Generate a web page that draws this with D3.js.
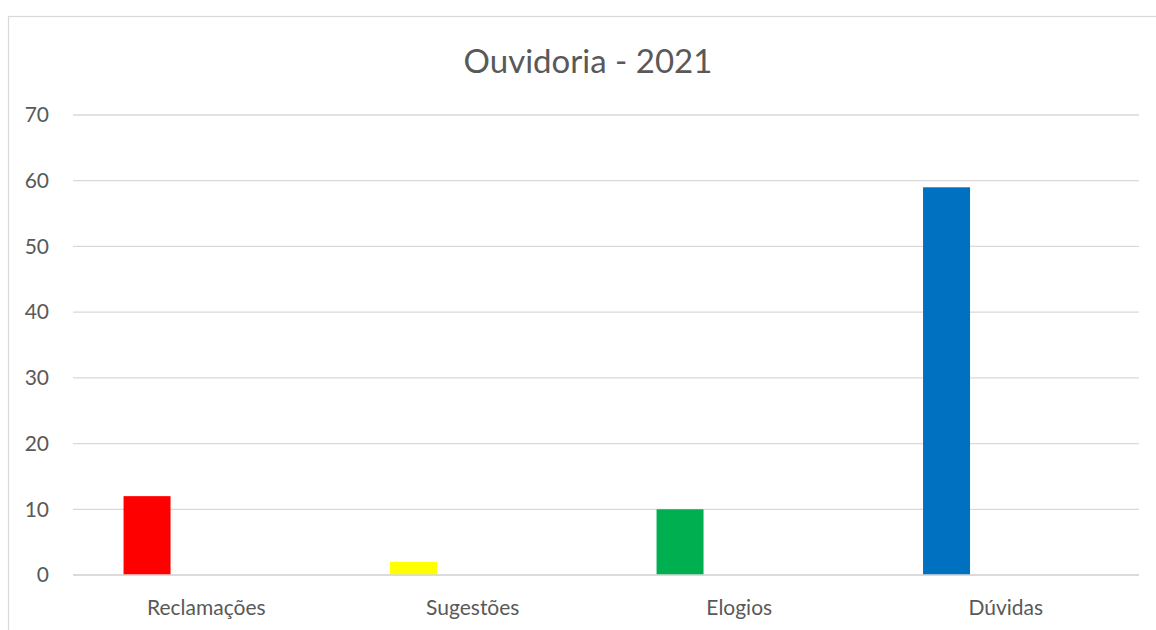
<!DOCTYPE html>
<html>
<head>
<meta charset="utf-8">
<script src="https://cdn.jsdelivr.net/npm/d3@7"></script>
<style>
  body { margin: 0; background: #fff; }
  text { font-family: Lato, "Liberation Sans", sans-serif; fill: #595959; }
</style>
</head>
<body>
<div id="chart"></div>
<script>
// data
var categories = ["Reclamações", "Sugestões", "Elogios", "Dúvidas"];
var values = [12, 2, 10, 59];
var barColors = ["#ff0000", "#ffff00", "#00b050", "#0070c0"];
var yTicks = [0, 10, 20, 30, 40, 50, 60, 70];
var slots = ["2021", "vazio"];
var title = "Ouvidoria - 2021";

var svgWidth = 1156;
var svgHeight = 630;

var margin = { top: 115, right: 17, bottom: 55, left: 73 };
var chartWidth = svgWidth - margin.left - margin.right;
var chartHeight = svgHeight - margin.top - margin.bottom;

var svg = d3.select("#chart").append("svg")
  .attr("width", svgWidth)
  .attr("height", svgHeight);

// outer frame of the chart object (runs off the right and bottom)
svg.append("rect")
  .attr("x", 8.5)
  .attr("y", 16.5)
  .attr("width", svgWidth + 20)
  .attr("height", svgHeight + 20)
  .attr("fill", "none")
  .attr("stroke", "#d9d9d9")
  .attr("stroke-width", 1.2);

svg.append("text")
  .attr("x", 588)
  .attr("y", 73)
  .attr("text-anchor", "middle")
  .style("font-size", "33px")
  .text(title);

var chartGroup = svg.append("g")
  .attr("transform", `translate(${margin.left}, ${margin.top})`);

var yScale = d3.scaleLinear()
  .domain([0, 70])
  .range([chartHeight, 0]);

var xScale = d3.scaleBand()
  .domain(categories)
  .range([0, chartWidth])
  .padding(0);

// two slots per category, the value sits in the first one
var xSub = d3.scaleBand()
  .domain(slots)
  .range([0, xScale.bandwidth()])
  .paddingInner(0)
  .paddingOuter(1.836)
  .align(0.293);

// gridlines
chartGroup.append("g")
  .selectAll("line")
  .data(yTicks)
  .enter()
  .append("line")
  .attr("x1", 0)
  .attr("x2", chartWidth)
  .attr("y1", d => yScale(d))
  .attr("y2", d => yScale(d))
  .attr("stroke", "#d9d9d9")
  .attr("stroke-width", 1.3);

var yAxis = d3.axisLeft(yScale).tickValues(yTicks).tickSize(0).tickPadding(24);
chartGroup.append("g")
  .call(yAxis)
  .call(g => g.select(".domain").remove())
  .call(g => g.selectAll("text").style("font-size", "21px").attr("fill", "#595959"));

var xAxis = d3.axisBottom(xScale).tickSize(0).tickPadding(25);
chartGroup.append("g")
  .attr("transform", `translate(0, ${chartHeight})`)
  .call(xAxis)
  .call(g => g.select(".domain").remove())
  .call(g => g.selectAll("text").style("font-size", "21px").attr("fill", "#595959"));

chartGroup.selectAll(".bar")
  .data(categories)
  .enter()
  .append("rect")
  .attr("class", "bar")
  .attr("x", d => xScale(d) + xSub(slots[0]))
  .attr("width", xSub.bandwidth())
  .attr("y", (d, i) => yScale(values[i]))
  .attr("height", (d, i) => chartHeight - yScale(values[i]))
  .attr("fill", (d, i) => barColors[i]);

// base line redrawn on top of the bars
chartGroup.append("line")
  .attr("x1", 0)
  .attr("x2", chartWidth)
  .attr("y1", chartHeight)
  .attr("y2", chartHeight)
  .attr("stroke", "#d9d9d9")
  .attr("stroke-width", 1.5);
</script>
</body>
</html>
